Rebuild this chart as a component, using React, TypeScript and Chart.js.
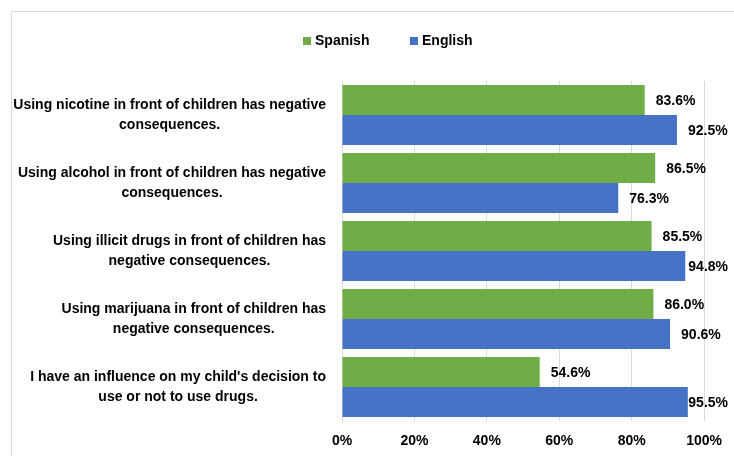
import React, { useEffect, useRef } from "react";
import { Chart, registerables } from "chart.js";

Chart.register(...registerables);

const categories: string[][] = [
  ["Using nicotine in front of children has negative", "consequences."],
  ["Using alcohol in front of children has negative", "consequences."],
  ["Using illicit drugs in front of children has", "negative consequences."],
  ["Using marijuana in front of children has", "negative consequences."],
  ["I have an influence on my child's decision to", "use or not to use drugs."],
];
const spanishValues = [83.6, 86.5, 85.5, 86.0, 54.6];
const englishValues = [92.5, 76.3, 94.8, 90.6, 95.5];
const seriesNames = ["Spanish", "English"];
const seriesColors = ["#70AD47", "#4472C4"];
const xTicks = [0, 20, 40, 60, 80, 100];

const FONT = "bold 14px 'Liberation Sans', Arial, sans-serif";

const framePlugin = {
  id: "frame",
  beforeDraw(chart: any) {
    const ctx = chart.ctx;
    ctx.save();
    ctx.fillStyle = "#ffffff";
    ctx.fillRect(0, 0, chart.width, chart.height);
    ctx.strokeStyle = "#d9d9d9";
    ctx.lineWidth = 1;
    ctx.beginPath();
    ctx.moveTo(11.5, chart.height);
    ctx.lineTo(11.5, 11.5);
    ctx.lineTo(chart.width, 11.5);
    ctx.stroke();
    ctx.restore();
  },
};

const legendPlugin = {
  id: "customLegend",
  afterDraw(chart: any) {
    const ctx = chart.ctx;
    ctx.save();
    ctx.font = FONT;
    ctx.textBaseline = "middle";
    ctx.textAlign = "left";
    const y = 41;
    const starts = [303, 410];
    chart.data.datasets.forEach((ds: any, i: number) => {
      const x = starts[i];
      ctx.fillStyle = ds.backgroundColor;
      ctx.fillRect(x, y - 4, 8, 8);
      ctx.fillStyle = "#000000";
      ctx.fillText(ds.label, x + 12, y);
    });
    ctx.restore();
  },
};

const categoryLabelPlugin = {
  id: "catLabels",
  afterDraw(chart: any) {
    const ctx = chart.ctx;
    const yScale = chart.scales.y;
    ctx.save();
    ctx.font = FONT;
    ctx.fillStyle = "#000000";
    ctx.textAlign = "center";
    ctx.textBaseline = "middle";
    const rightEdge = 326;
    const lineH = 20;
    categories.forEach((lines, i) => {
      const cy = yScale.getPixelForTick(i);
      const maxW = Math.max(...lines.map((l) => ctx.measureText(l).width));
      const cx = rightEdge - maxW / 2;
      const startY = cy - ((lines.length - 1) * lineH) / 2;
      lines.forEach((l, j) => ctx.fillText(l, cx, startY + j * lineH));
    });
    ctx.restore();
  },
};

const dataLabelPlugin = {
  id: "dataLabels",
  afterDatasetsDraw(chart: any) {
    const ctx = chart.ctx;
    ctx.save();
    ctx.font = FONT;
    ctx.fillStyle = "#000000";
    ctx.textAlign = "left";
    ctx.textBaseline = "middle";
    chart.data.datasets.forEach((ds: any, di: number) => {
      const meta = chart.getDatasetMeta(di);
      meta.data.forEach((el: any, i: number) => {
        const text = Number(ds.data[i]).toFixed(1) + "%";
        const w = ctx.measureText(text).width;
        const x = Math.min(el.x + 11, 728 - w);
        ctx.fillText(text, x, el.y + 1);
      });
    });
    ctx.restore();
  },
};

export default function App() {
  const canvasRef = useRef<HTMLCanvasElement | null>(null);

  useEffect(() => {
    if (!canvasRef.current) return;
    const chart = new Chart(canvasRef.current, {
      type: "bar",
      data: {
        labels: categories.map((c) => c.join(" ")),
        datasets: [
          {
            label: seriesNames[0],
            data: spanishValues,
            backgroundColor: seriesColors[0],
            categoryPercentage: 0.882,
            barPercentage: 1,
          },
          {
            label: seriesNames[1],
            data: englishValues,
            backgroundColor: seriesColors[1],
            categoryPercentage: 0.882,
            barPercentage: 1,
          },
        ],
      },
      options: {
        indexAxis: "y",
        responsive: false,
        animation: false,
        devicePixelRatio: 1,
        layout: { padding: { top: 81, right: 29, left: 0, bottom: 0 } },
        plugins: {
          legend: { display: false },
          tooltip: { enabled: false },
        },
        scales: {
          y: {
            type: "category",
            ticks: { display: false },
            grid: { display: false, drawTicks: false },
            border: { display: true, color: "#d9d9d9" },
            afterFit(scale: any) {
              scale.width = 342;
            },
          },
          x: {
            type: "linear",
            min: xTicks[0],
            max: xTicks[xTicks.length - 1],
            afterBuildTicks(scale: any) {
              scale.ticks = xTicks.map((v) => ({ value: v }));
            },
            ticks: {
              callback: (v: any) => v + "%",
              color: "#000000",
              font: { family: "'Liberation Sans', Arial, sans-serif", size: 14, weight: "bold" },
              padding: 12,
            },
            grid: { color: "#d9d9d9", drawTicks: false },
            border: { display: false },
            afterFit(scale: any) {
              scale.height = 35;
            },
          },
        },
      } as any,
      plugins: [framePlugin, legendPlugin, categoryLabelPlugin, dataLabelPlugin],
    });
    return () => chart.destroy();
  }, []);

  return (
    <div style={{ position: "fixed", left: 0, top: 0, width: 734, height: 456 }}>
      <canvas ref={canvasRef} width={734} height={456} style={{ display: "block" }} />
    </div>
  );
}
